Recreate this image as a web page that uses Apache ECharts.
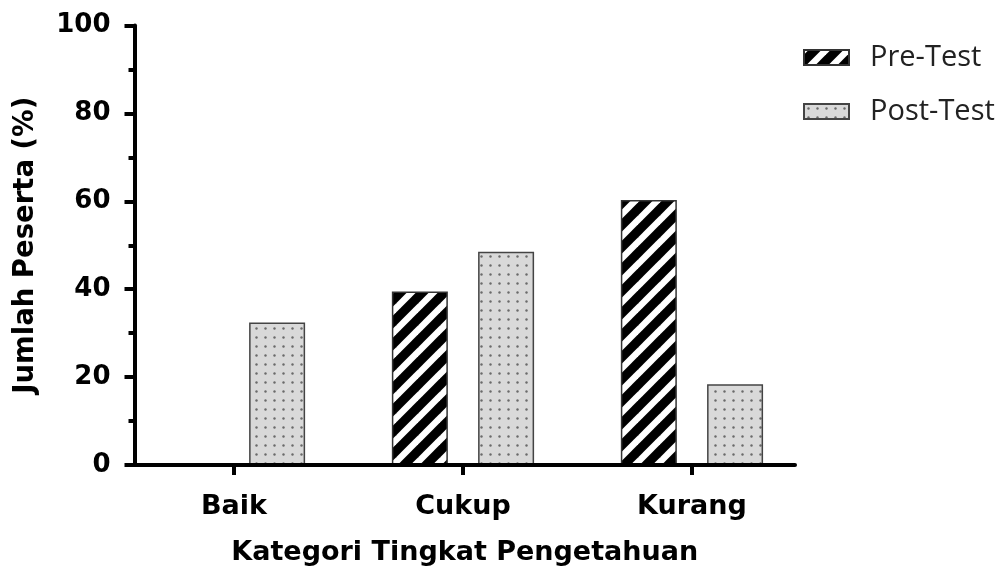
<!DOCTYPE html>
<html>
<head>
<meta charset="utf-8">
<script src="https://cdn.jsdelivr.net/npm/echarts@6/dist/echarts.min.js"></script>
<style>
html,body{margin:0;padding:0;background:#fff;}
#main{width:998px;height:572px;}
</style>
</head>
<body>
<div id="main"></div>
<script>
var categories = ['Baik', 'Cukup', 'Kurang'];
var preTest = [0, 39.5, 60.3];
var postTest = [32.4, 48.5, 18.4];
var yTicks = [0, 20, 40, 60, 80, 100];

function stripePattern() {
  var T = 22;
  var c = document.createElement('canvas');
  c.width = T; c.height = T;
  var g = c.getContext('2d');
  g.fillStyle = '#000';
  g.fillRect(0, 0, T, T);
  g.strokeStyle = '#fff';
  g.lineWidth = 6.5;
  for (var k = -1; k <= 1; k++) {
    g.beginPath();
    g.moveTo(k * T - 3, T + 3);
    g.lineTo(k * T + T + 3, -3);
    g.stroke();
  }
  return c;
}
function dotPattern() {
  var T = 9;
  var c = document.createElement('canvas');
  c.width = T; c.height = T;
  var g = c.getContext('2d');
  g.fillStyle = '#d9d9d9';
  g.fillRect(0, 0, T, T);
  g.fillStyle = '#6a6a6a';
  g.beginPath();
  g.arc(4.5, 4.5, 1.2, 0, Math.PI * 2);
  g.fill();
  return c;
}

function pairs(arr) { return arr.map(function (v, i) { return [i, v]; }); }

var chart = echarts.init(document.getElementById('main'));
var boldFont = '"DejaVu Sans", sans-serif';
chart.setOption({
  animation: false,
  backgroundColor: '#fff',
  grid: { left: 134.5, right: 203, top: 25.5, bottom: 107, containLabel: false },
  legend: {
    orient: 'vertical',
    left: 798,
    top: 38,
    icon: 'rect',
    itemWidth: 45,
    itemHeight: 15,
    itemGap: 25,
    textStyle: { fontFamily: '"Open Sans", sans-serif', fontSize: 29, color: '#222', lineHeight: 28, padding: [0, 0, 0, 16] },
    data: ['Pre-Test', 'Post-Test']
  },
  xAxis: {
    type: 'value',
    z: 5,
    min: -0.4345,
    max: 2.45,
    name: 'Kategori Tingkat Pengetahuan',
    nameLocation: 'middle',
    nameGap: 74,
    nameTextStyle: { fontFamily: boldFont, fontWeight: 'bold', fontSize: 27, color: '#000' },
    axisLine: { show: true, onZero: false, lineStyle: { color: '#000', width: 4 } },
    axisTick: { show: true, length: 10, customValues: [0, 1, 2], lineStyle: { color: '#000', width: 4 } },
    axisLabel: {
      customValues: [0, 1, 2],
      margin: 28,
      fontFamily: boldFont, fontWeight: 'bold', fontSize: 27, color: '#000',
      formatter: function (v) { return categories[Math.round(v)]; }
    },
    splitLine: { show: false }
  },
  yAxis: {
    type: 'value',
    z: 5,
    min: 0, max: 100, interval: 20,
    name: 'Jumlah Peserta (%)',
    nameLocation: 'middle',
    nameGap: 95,
    nameRotate: 90,
    nameTextStyle: { fontFamily: boldFont, fontWeight: 'bold', fontSize: 27.5, color: '#000' },
    axisLine: { show: true, onZero: false, lineStyle: { color: '#000', width: 4 } },
    axisTick: { show: true, length: 10, lineStyle: { color: '#000', width: 4 } },
    minorTick: { show: true, splitNumber: 2, length: 6, lineStyle: { color: '#000', width: 4 } },
    axisLabel: {
      margin: 24,
      fontFamily: boldFont, fontWeight: 'bold', fontSize: 26, color: '#000',
      customValues: yTicks
    },
    splitLine: { show: false },
    minorSplitLine: { show: false }
  },
  series: [
    {
      name: 'Pre-Test',
      type: 'bar',
      barWidth: 56,
      barGap: '54%',
      data: pairs(preTest),
      itemStyle: { color: { image: stripePattern(), repeat: 'repeat' }, borderColor: '#333', borderWidth: 1.5 }
    },
    {
      name: 'Post-Test',
      type: 'bar',
      barWidth: 56,
      barGap: '54%',
      data: pairs(postTest),
      itemStyle: { color: { image: dotPattern(), repeat: 'repeat' }, borderColor: '#444', borderWidth: 1.5 }
    }
  ]
});
</script>
</body>
</html>
